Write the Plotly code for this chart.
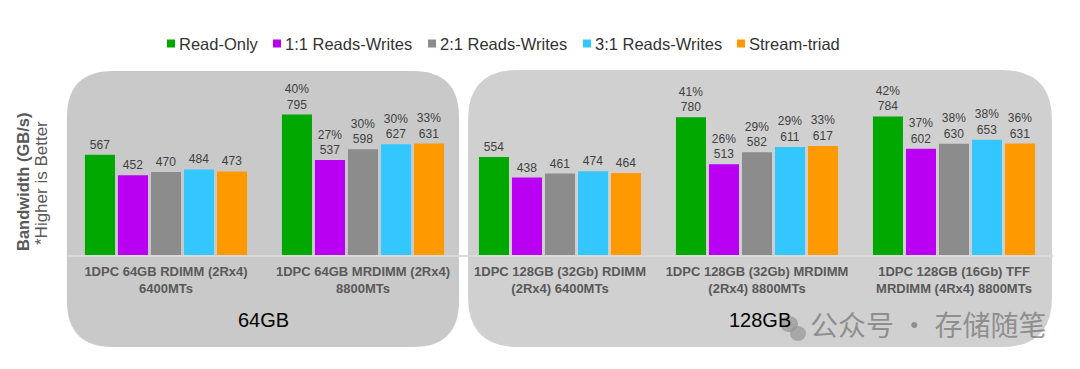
import plotly.graph_objects as go

# page body has an 8px margin; lay out in window pixels and convert
OFF = 8
W, H = 1080 - OFF, 369 - OFF

categories = [
    "1DPC 64GB RDIMM (2Rx4)<br>6400MTs",
    "1DPC 64GB MRDIMM (2Rx4)<br>8800MTs",
    "1DPC 128GB (32Gb) RDIMM<br>(2Rx4) 6400MTs",
    "1DPC 128GB (32Gb) MRDIMM<br>(2Rx4) 8800MTs",
    "1DPC 128GB (16Gb) TFF<br>MRDIMM (4Rx4) 8800MTs",
]
series_names = ["Read-Only", "1:1 Reads-Writes", "2:1 Reads-Writes", "3:1 Reads-Writes", "Stream-triad"]
read_only = [567, 795, 554, 780, 784]
rw_1_1 = [452, 537, 438, 513, 602]
rw_2_1 = [470, 598, 461, 582, 630]
rw_3_1 = [484, 627, 474, 611, 653]
stream_triad = [473, 631, 464, 617, 631]
read_only_pct = ["", "40%", "", "41%", "42%"]
rw_1_1_pct = ["", "27%", "", "26%", "37%"]
rw_2_1_pct = ["", "30%", "", "29%", "38%"]
rw_3_1_pct = ["", "30%", "", "29%", "38%"]
stream_triad_pct = ["", "33%", "", "33%", "36%"]
colors = ["#00a800", "#b900f2", "#8c8c8c", "#33c6ff", "#ff9900"]
group_labels = ["64GB", "128GB"]

values = [read_only, rw_1_1, rw_2_1, rw_3_1, stream_triad]
pcts = [read_only_pct, rw_1_1_pct, rw_2_1_pct, rw_3_1_pct, stream_triad_pct]


def px(x):
    return (x - OFF) / W


def py(y):
    return 1 - (y - OFF) / H


fig = go.Figure()
for name, vals, pc, col in zip(series_names, values, pcts, colors):
    texts = [(p + "<br>" + str(v)) if p else str(v) for v, p in zip(vals, pc)]
    fig.add_trace(go.Bar(
        name=name, x=categories, y=vals, marker=dict(color=col, line=dict(width=0)),
        text=texts, textposition="outside", textangle=0, cliponaxis=False,
        textfont=dict(family="Liberation Sans, Arial, sans-serif", size=12, color="#404040"),
        showlegend=False, hoverinfo="x+y",
    ))


def rounded_path(x0, y0, x1, y1, r):
    X0, X1 = px(x0), px(x1)
    Y0, Y1 = py(y0), py(y1)
    rx, ry = r / W, r / H
    return (f"M {X0 + rx},{Y0} L {X1 - rx},{Y0} Q {X1},{Y0} {X1},{Y0 - ry} "
            f"L {X1},{Y1 + ry} Q {X1},{Y1} {X1 - rx},{Y1} "
            f"L {X0 + rx},{Y1} Q {X0},{Y1} {X0},{Y1 + ry} "
            f"L {X0},{Y0 - ry} Q {X0},{Y0} {X0 + rx},{Y0} Z")


shapes = [
    dict(type="path", xref="paper", yref="paper", path=rounded_path(67, 71, 459, 347, 46),
         fillcolor="#c9c9c9", line=dict(width=0), layer="below"),
    dict(type="path", xref="paper", yref="paper", path=rounded_path(468, 70, 1052, 347, 50),
         fillcolor="#d0d0d0", line=dict(width=0), layer="below"),
]

annotations = []
# manual legend
sq_x = [167, 273, 428, 583, 737]
for xs, name, col in zip(sq_x, series_names, colors):
    shapes.append(dict(type="rect", xref="paper", yref="paper",
                       x0=px(xs), x1=px(xs + 8), y0=py(47.5), y1=py(39.5),
                       fillcolor=col, line=dict(width=0)))
    annotations.append(dict(xref="paper", yref="paper", x=px(xs + 10), y=py(43.5),
                            xanchor="left", yanchor="middle", showarrow=False, text=name,
                            font=dict(family="Liberation Sans, Arial, sans-serif", size=16.5, color="#333333")))

# y-axis titles
annotations.append(dict(xref="paper", yref="paper", x=px(23), y=py(182), textangle=-90,
                        showarrow=False, text="<b>Bandwidth (GB/s)</b>", xanchor="center", yanchor="middle",
                        font=dict(family="Liberation Sans, Arial, sans-serif", size=16.5, color="#595959")))
annotations.append(dict(xref="paper", yref="paper", x=px(41), y=py(183), textangle=-90,
                        showarrow=False, text="*Higher is Better", xanchor="center", yanchor="middle",
                        font=dict(family="Liberation Sans, Arial, sans-serif", size=17, color="#595959")))

# group labels
for gx, gl in zip([263, 760], group_labels):
    annotations.append(dict(xref="paper", yref="paper", x=px(gx), y=py(320), showarrow=False,
                            text=gl, xanchor="center", yanchor="middle",
                            font=dict(family="Liberation Sans, Arial, sans-serif", size=20, color="#000000")))

# watermark
annotations.append(dict(xref="paper", yref="paper", x=px(808), y=py(324), showarrow=False,
                        text="公众号 · 存储随笔", xanchor="left", yanchor="middle",
                        font=dict(family="Noto Sans CJK SC, sans-serif", size=28, color="rgba(120,120,120,0.75)")))
shapes.append(dict(type="circle", xref="paper", yref="paper", x0=px(780), x1=px(798), y0=py(332), y1=py(316),
                   fillcolor="rgba(140,140,140,0.6)", line=dict(width=0)))
shapes.append(dict(type="circle", xref="paper", yref="paper", x0=px(790), x1=px(806), y0=py(341), y1=py(326),
                   fillcolor="rgba(140,140,140,0.6)", line=dict(width=0)))

y_top_px, y_base_px = 40, 255
units_per_px = 5.66

fig.update_layout(
    width=W, height=H, autosize=False,
    margin=dict(l=0, r=0, t=0, b=0, pad=0),
    paper_bgcolor="white", plot_bgcolor="rgba(0,0,0,0)",
    barmode="group", bargap=0.162, bargroupgap=0.09,
    showlegend=False,
    shapes=shapes, annotations=annotations,
)
fig.update_xaxes(
    domain=[px(67.5), px(1052.5)], type="category",
    showline=True, linecolor="#dadada", linewidth=1.5,
    ticks="outside", ticklen=4, tickcolor="rgba(0,0,0,0)",
    tickfont=dict(family="Liberation Sans, Arial, sans-serif", size=13, color="#595959"),
    tickvals=categories, ticktext=["<b>" + c + "</b>" for c in categories],
    showgrid=False, zeroline=False, automargin=False,
)
fig.update_yaxes(
    domain=[py(y_base_px), py(y_top_px)],
    range=[0, (y_base_px - y_top_px) * units_per_px],
    visible=False, showgrid=False, zeroline=False, automargin=False,
)

fig.write_html("out.html")
